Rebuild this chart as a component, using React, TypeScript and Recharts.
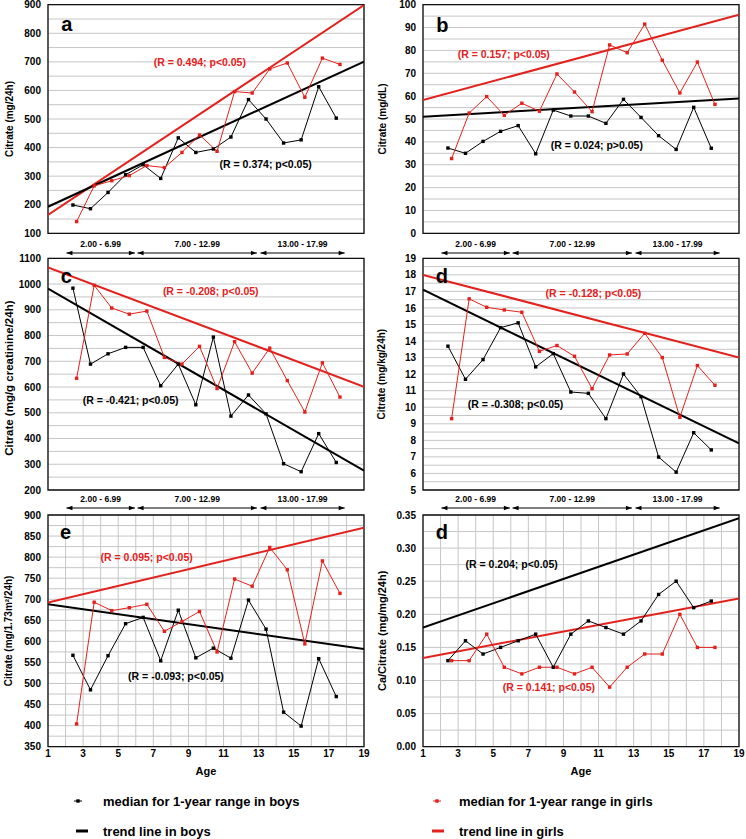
import React from 'react';
import { LineChart, Line, XAxis, YAxis, CartesianGrid, ReferenceArea, ReferenceDot } from 'recharts';

const RED = '#e3211c';
const BLACK = '#000000';
const GRID = '#c6c6c6';
const FONT = '"Liberation Sans", Arial, Helvetica, sans-serif';

// ---- categories (age positions of the 1-year medians) ----
const AGE_BOYS = [2.42, 3.42, 4.42, 5.42, 6.42, 7.42, 8.42, 9.42, 10.42, 11.42, 12.42, 13.42, 14.42, 15.42, 16.42, 17.42];
const AGE_GIRLS = [2.63, 3.63, 4.63, 5.63, 6.63, 7.63, 8.63, 9.63, 10.63, 11.63, 12.63, 13.63, 14.63, 15.63, 16.63, 17.63];
const TREND_X = [1, 19];

// ---- panel a: Citrate (mg/24h) ----
const citrate24hBoys = [199, 186, 243, 305, 340, 292, 434, 383, 395, 437, 568, 500, 416, 427, 613, 503];
const citrate24hGirls = [141, 266, 284, 302, 337, 330, 383, 444, 387, 596, 591, 675, 696, 576, 713, 691];
const citrate24hTrendBoys = [193, 701];
const citrate24hTrendGirls = [164, 899];

// ---- panel b: Citrate (mg/dL) ----
const citrateDlBoys = [37.3, 35.0, 40.2, 44.6, 47.1, 34.8, 53.9, 51.3, 51.3, 48.1, 58.6, 50.7, 42.7, 36.7, 55.1, 37.2];
const citrateDlGirls = [32.7, 52.6, 59.8, 51.6, 56.9, 53.4, 69.7, 61.8, 53.2, 82.4, 79.0, 91.5, 75.7, 61.4, 74.9, 56.4];
const citrateDlTrendBoys = [51.0, 59.0];
const citrateDlTrendGirls = [58.3, 95.6];

// ---- panel c: Citrate (mg/g creatinine/24h) ----
const citrateCreatBoys = [984, 689, 729, 754, 754, 605, 689, 531, 794, 487, 569, 496, 302, 271, 419, 307];
const citrateCreatGirls = [634, 995, 907, 883, 895, 715, 689, 758, 594, 776, 654, 751, 625, 503, 694, 561];
const citrateCreatTrendBoys = [982, 275];
const citrateCreatTrendGirls = [1065, 601];

// ---- panel d: Citrate (mg/kg/24h) ----
const citrateKgBoys = [13.69, 11.69, 12.88, 14.81, 15.1, 12.44, 13.24, 10.92, 10.84, 9.31, 12.01, 10.64, 6.99, 6.08, 8.46, 7.42];
const citrateKgGirls = [9.31, 16.55, 16.04, 15.88, 15.74, 13.38, 13.73, 13.08, 11.12, 13.16, 13.22, 14.47, 13.0, 9.39, 12.52, 11.33];
const citrateKgTrendBoys = [17.1, 7.82];
const citrateKgTrendGirls = [18.0, 13.0];

// ---- panel e: Citrate (mg/1.73m2/24h) ----
const citrateBsaBoys = [567, 485, 566, 642, 657, 554, 674, 561, 584, 560, 698, 629, 432, 399, 559, 469];
const citrateBsaGirls = [404, 693, 673, 680, 688, 624, 647, 671, 575, 748, 731, 823, 770, 594, 791, 714];
const citrateBsaTrendBoys = [688, 582];
const citrateBsaTrendGirls = [692, 870];

// ---- panel f: Ca/Citrate (mg/mg/24h) ----
const caCitrateBoys = [0.13, 0.16, 0.14, 0.15, 0.16, 0.17, 0.12, 0.17, 0.19, 0.18, 0.17, 0.19, 0.23, 0.25, 0.21, 0.22];
const caCitrateGirls = [0.13, 0.13, 0.17, 0.12, 0.11, 0.12, 0.12, 0.11, 0.12, 0.09, 0.12, 0.14, 0.14, 0.2, 0.15, 0.15];
const caCitrateTrendBoys = [0.18, 0.345];
const caCitrateTrendGirls = [0.134, 0.224];

// ---- tick labels ----
const yTicksA = [100, 200, 300, 400, 500, 600, 700, 800, 900];
const yTicksB = [0, 10, 20, 30, 40, 50, 60, 70, 80, 90, 100];
const yTicksC = [200, 300, 400, 500, 600, 700, 800, 900, 1000, 1100];
const yTicksD = [5, 6, 7, 8, 9, 10, 11, 12, 13, 14, 15, 16, 17, 18, 19];
const yTicksE = [350, 400, 450, 500, 550, 600, 650, 700, 750, 800, 850, 900];
const yTicksF = [0, 0.05, 0.1, 0.15, 0.2, 0.25, 0.3, 0.35];
const xTicks = [1, 2, 3, 4, 5, 6, 7, 8, 9, 10, 11, 12, 13, 14, 15, 16, 17, 18, 19];
const xLabels = [1, 3, 5, 7, 9, 11, 13, 15, 17, 19];

// ---- age group strip ----
const groupLabels = ['2.00 - 6.99', '7.00 - 12.99', '13.00 - 17.99'];
const groupStart = [2.05, 6.1, 13.1];
const groupEnd = [5.95, 12.9, 17.9];

type Pt = { x: number; y: number };
const zip = (xs: number[], ys: number[]): Pt[] => xs.map((x, i) => ({ x, y: ys[i] }));
const withMid = (m: number[]) => m.flatMap((v, i) => (i < m.length - 1 ? [v, (v + m[i + 1]) / 2] : [v]));

const square = (color: string) => (p: any) => {
  if (p.cx == null || p.cy == null) return <g key={`e${p.index}`} />;
  return <rect key={`d${p.index}`} x={p.cx - 1.7} y={p.cy - 1.7} width={3.4} height={3.4} fill={color} />;
};

type Ann = { text: string; at: [number, number] };

interface PanelProps {
  left: number; top: number; height: number; mt: number; mb: number; xh: number;
  yw: number; mr: number;
  yMajor: number[]; yFmt: (v: number) => string;
  ylabel: string; ylabelSize: number; ylabelDy?: number;
  letter: string; letterAt: [number, number];
  boys: number[]; girls: number[]; trendB: number[]; trendG: number[];
  annB: Ann; annG: Ann;
  showX: boolean;
}

function Panel(p: PanelProps) {
  const W = 373;
  const plotH = p.height - p.mt - p.mb - p.xh;
  const cy = p.mt + plotH / 2 + (p.ylabelDy || 0);
  const lx = 9;
  const yGrid = withMid(p.yMajor);
  const yMin = p.yMajor[0];
  const yMax = p.yMajor[p.yMajor.length - 1];
  const annShape = (ann: Ann, color: string) => (sp: any) => (
    <text x={sp.cx} y={sp.cy} textAnchor="middle" dominantBaseline="central" fill={color}
      fontSize={10.5} fontWeight="bold" fontFamily={FONT}>{ann.text}</text>
  );
  return (
    <div style={{ position: 'absolute', left: p.left, top: p.top, width: W, height: p.height }}>
      <LineChart width={W} height={p.height} margin={{ top: p.mt, right: p.mr, left: 0, bottom: p.mb }}>
        <CartesianGrid stroke={GRID} strokeWidth={1} />
        <XAxis type="number" dataKey="x" domain={[1, 19]} ticks={xTicks} interval={0} allowDataOverflow
          height={p.xh} tick={p.showX ? { fill: '#000', fontSize: 10, fontWeight: 'bold' } : false}
          tickFormatter={(v: number) => (xLabels.includes(v) ? String(v) : '')}
          tickSize={0} tickMargin={3} axisLine={false} tickLine={false} />
        <YAxis type="number" domain={[yMin, yMax]} ticks={yGrid} interval={0} allowDataOverflow
          width={p.yw} tickSize={0} tickMargin={7} axisLine={false} tickLine={false}
          tick={{ fill: '#000', fontSize: 10, fontWeight: 'bold' }}
          tickFormatter={(v: number) => (p.yMajor.includes(v) ? p.yFmt(v) : '')} />
        <Line data={zip(TREND_X, p.trendG)} dataKey="y" stroke={RED} strokeWidth={2} dot={false} activeDot={false} isAnimationActive={false} />
        <Line data={zip(TREND_X, p.trendB)} dataKey="y" stroke={BLACK} strokeWidth={2} dot={false} activeDot={false} isAnimationActive={false} />
        <Line data={zip(AGE_BOYS, p.boys)} dataKey="y" stroke={BLACK} strokeWidth={1} dot={square(BLACK)} activeDot={false} isAnimationActive={false} />
        <Line data={zip(AGE_GIRLS, p.girls)} dataKey="y" stroke={RED} strokeWidth={1} dot={square(RED)} activeDot={false} isAnimationActive={false} />
        <ReferenceArea x1={1} x2={19} y1={yMin} y2={yMax} fill="none" stroke="#111" strokeWidth={1.3} ifOverflow="visible" />
        <ReferenceDot x={p.annG.at[0]} y={p.annG.at[1]} r={0} ifOverflow="visible" shape={annShape(p.annG, RED)} />
        <ReferenceDot x={p.annB.at[0]} y={p.annB.at[1]} r={0} ifOverflow="visible" shape={annShape(p.annB, BLACK)} />
        <ReferenceDot x={p.letterAt[0]} y={p.letterAt[1]} r={0} ifOverflow="visible"
          shape={(sp: any) => (
            <text x={sp.cx} y={sp.cy} textAnchor="start" fill="#000" fontSize={20} fontWeight="bold" fontFamily={FONT}>{p.letter}</text>
          )} />
        <text x={lx} y={cy} transform={`rotate(-90 ${lx} ${cy})`} textAnchor="middle" dominantBaseline="central"
          fontSize={p.ylabelSize} fontWeight="bold" fill="#000" fontFamily={FONT}>{p.ylabel}</text>
      </LineChart>
    </div>
  );
}

const arrowHead = (p: any) => {
  if (p.cx == null) return <g key={`a${p.index}`} />;
  const d = p.index === 0 ? 1 : -1;
  const pts = `${p.cx},${p.cy} ${p.cx + d * 6},${p.cy - 2.3} ${p.cx + d * 6},${p.cy + 2.3}`;
  return <polygon key={`a${p.index}`} points={pts} fill="#000" />;
};

function Strip({ left, top, yw, mr }: { left: number; top: number; yw: number; mr: number }) {
  return (
    <div style={{ position: 'absolute', left, top, width: 373, height: 20 }}>
      <LineChart width={373} height={20} margin={{ top: 0, right: mr, left: yw, bottom: 0 }}>
        <XAxis type="number" dataKey="x" domain={[1, 19]} hide allowDataOverflow />
        <YAxis type="number" domain={[0, 1]} hide allowDataOverflow />
        {groupLabels.map((g, i) => (
          <Line key={`l${i}`} data={[{ x: groupStart[i], y: 0.15 }, { x: groupEnd[i], y: 0.15 }]} dataKey="y"
            stroke="#000" strokeWidth={1} dot={arrowHead} activeDot={false} isAnimationActive={false} />
        ))}
        {groupLabels.map((g, i) => (
          <ReferenceDot key={`t${i}`} x={(groupStart[i] + groupEnd[i]) / 2} y={0.62} r={0} ifOverflow="visible"
            shape={(sp: any) => (
              <text x={sp.cx} y={sp.cy} textAnchor="middle" dominantBaseline="central" fill="#000"
                fontSize={8.5} fontWeight="bold" fontFamily={FONT}>{g}</text>
            )} />
        ))}
      </LineChart>
    </div>
  );
}

const fmtInt = (v: number) => String(v);
const fmt2 = (v: number) => v.toFixed(2);

const L = { left: 0, yw: 48, mr: 9 };
const R = { left: 373, yw: 50, mr: 7 };
const ROW1 = { top: 0, height: 240, mt: 4.7, mb: 6.7, xh: 0, showX: false };
const ROW2 = { top: 250, height: 247, mt: 8.3, mb: 7, xh: 0, showX: false };
const ROW3 = { top: 505, height: 262, mt: 10, mb: 6.3, xh: 14, showX: true };

export default function App() {
  return (
    <div style={{ position: 'absolute', left: 0, top: 0, width: 746, height: 839, background: '#fff', fontFamily: FONT }}>
      <Panel {...L} {...ROW1} yMajor={yTicksA} yFmt={fmtInt} ylabel="Citrate (mg/24h)" ylabelSize={10}
        letter="a" letterAt={[1.75, 809]}
        boys={citrate24hBoys} girls={citrate24hGirls} trendB={citrate24hTrendBoys} trendG={citrate24hTrendGirls}
        annG={{ text: '(R = 0.494; p<0.05)', at: [9.65, 700] }} annB={{ text: '(R = 0.374; p<0.05)', at: [13.4, 342] }} />
      <Panel {...R} {...ROW1} yMajor={yTicksB} yFmt={fmtInt} ylabel="Citrate (mg/dL)" ylabelSize={10}
        letter="b" letterAt={[1.75, 88]}
        boys={citrateDlBoys} girls={citrateDlGirls} trendB={citrateDlTrendBoys} trendG={citrateDlTrendGirls}
        annG={{ text: '(R = 0.157; p<0.05)', at: [5.6, 78.4] }} annB={{ text: '(R = 0.024; p>0.05)', at: [10.9, 38.6] }} />
      <Strip left={0} top={236} yw={48} mr={9} />
      <Strip left={373} top={236} yw={423 - 373} mr={7} />
      <Panel {...L} {...ROW2} yMajor={yTicksC} yFmt={fmtInt} ylabel="Citrate (mg/g creatinine/24h)" ylabelSize={11.5} ylabelDy={4}
        letter="c" letterAt={[1.73, 1003]}
        boys={citrateCreatBoys} girls={citrateCreatGirls} trendB={citrateCreatTrendBoys} trendG={citrateCreatTrendGirls}
        annG={{ text: '(R = -0.208; p<0.05)', at: [10.27, 973] }} annB={{ text: '(R = -0.421; p<0.05)', at: [5.71, 550] }} />
      <Panel {...R} {...ROW2} yMajor={yTicksD} yFmt={fmtInt} ylabel="Citrate (mg/kg/24h)" ylabelSize={10}
        letter="d" letterAt={[1.72, 17.49]}
        boys={citrateKgBoys} girls={citrateKgGirls} trendB={citrateKgTrendBoys} trendG={citrateKgTrendGirls}
        annG={{ text: '(R = -0.128; p<0.05)', at: [10.71, 16.9] }} annB={{ text: '(R = -0.308; p<0.05)', at: [6.27, 10.2] }} />
      <Strip left={0} top={491} yw={48} mr={9} />
      <Strip left={373} top={491} yw={423 - 373} mr={7} />
      <Panel {...L} {...ROW3} yMajor={yTicksE} yFmt={fmtInt} ylabel="Citrate (mg/1.73m²/24h)" ylabelSize={10}
        letter="e" letterAt={[1.68, 842]}
        boys={citrateBsaBoys} girls={citrateBsaGirls} trendB={citrateBsaTrendBoys} trendG={citrateBsaTrendGirls}
        annG={{ text: '(R = 0.095; p<0.05)', at: [6.62, 801] }} annB={{ text: '(R = -0.093; p<0.05)', at: [8.29, 518] }} />
      <Panel {...R} {...ROW3} yMajor={yTicksF} yFmt={fmt2} ylabel="Ca/Citrate (mg/mg/24h)" ylabelSize={11}
        letter="d" letterAt={[1.72, 0.313]}
        boys={caCitrateBoys} girls={caCitrateGirls} trendB={caCitrateTrendBoys} trendG={caCitrateTrendGirls}
        annG={{ text: '(R = 0.141; p<0.05)', at: [8.17, 0.09] }} annB={{ text: '(R = 0.204; p<0.05)', at: [6.05, 0.276] }} />
      <svg width={746} height={84} style={{ position: 'absolute', left: 0, top: 755 }}>
        <g fontFamily={FONT} fontWeight="bold" fill="#000">
          <text x={206} y={16} textAnchor="middle" dominantBaseline="central" fontSize={11}>Age</text>
          <text x={581} y={16} textAnchor="middle" dominantBaseline="central" fontSize={11}>Age</text>
          <line x1={74} x2={82} y1={46} y2={46} stroke={BLACK} strokeWidth={1} />
          <rect x={76.3} y={44.3} width={3.4} height={3.4} fill={BLACK} />
          <text x={103} y={46} dominantBaseline="central" fontSize={13}>median for 1-year range in boys</text>
          <line x1={433} x2={441} y1={46} y2={46} stroke={RED} strokeWidth={1} />
          <rect x={435.3} y={44.3} width={3.4} height={3.4} fill={RED} />
          <text x={459} y={46} dominantBaseline="central" fontSize={13}>median for 1-year range in girls</text>
          <line x1={76} x2={88} y1={76} y2={76} stroke={BLACK} strokeWidth={3} />
          <text x={103} y={76} dominantBaseline="central" fontSize={13}>trend line in boys</text>
          <line x1={432} x2={444} y1={76} y2={76} stroke={RED} strokeWidth={3} />
          <text x={459} y={76} dominantBaseline="central" fontSize={13}>trend line in girls</text>
        </g>
      </svg>
    </div>
  );
}
